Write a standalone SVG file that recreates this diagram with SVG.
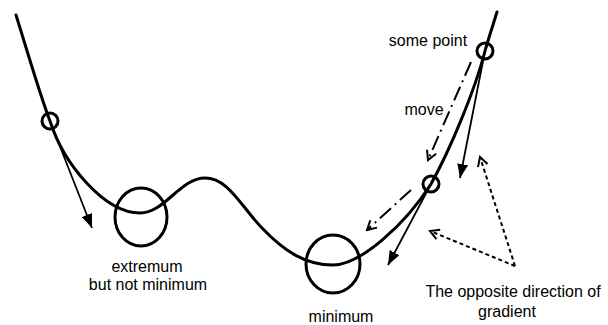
<svg xmlns="http://www.w3.org/2000/svg" width="608" height="325" viewBox="0 0 608 325">
<style>
.curve{fill:none;stroke:#000;stroke-width:3;stroke-linecap:round}
.ring{fill:none;stroke:#000;stroke-width:3}
.grad{fill:none;stroke:#000;stroke-width:1.8}
.move{fill:none;stroke:#000;stroke-width:2;stroke-dasharray:15 5 2 5}
.opp{fill:none;stroke:#000;stroke-width:2;stroke-dasharray:4 3}
.t{font-family:"Liberation Sans",Arial,sans-serif;font-size:16px;fill:#000;text-anchor:middle}
</style>
<defs>
<marker id="solid" viewBox="0 0 14 11" refX="14" refY="5.5" markerWidth="14" markerHeight="11" markerUnits="userSpaceOnUse" orient="auto">
<path d="M0,0 L14,5.5 L0,11 z" fill="#000"/>
</marker>
<marker id="open" viewBox="0 0 12 12" refX="10" refY="6" markerWidth="12" markerHeight="12" markerUnits="userSpaceOnUse" orient="auto">
<path d="M1,1 L10,6 L1,11" fill="none" stroke="#000" stroke-width="2"/>
</marker>
</defs>
<g id="curve">
<path class="curve" d="M16,15 C30,60 40,95 50,121 C64,165 105,213 140,213 C165,213 180,178 205,178 C228,178 240,205 262,228 C284,251 305,265 333,265 C360,265 405,225 431,184 C450,150 475,90 485,51 C488,40 493,25 497,12"/>
</g>
<g id="point-left">
<circle class="ring" cx="50" cy="121" r="8"/>
</g>
<g id="point-mid">
<circle class="ring" cx="431" cy="184" r="8"/>
</g>
<g id="point-top">
<circle class="ring" cx="485" cy="51" r="8"/>
</g>
<g id="extremum">
<ellipse class="ring" cx="141" cy="217" rx="26" ry="29"/>
<text class="t" x="147" y="272">extremum</text>
<text class="t" x="148" y="290">but not minimum</text>
</g>
<g id="minimum">
<ellipse class="ring" cx="333" cy="264" rx="27" ry="29"/>
<text class="t" x="341" y="322">minimum</text>
</g>
<g id="labels">
<text class="t" x="428" y="46">some point</text>
<text class="t" x="424" y="115">move</text>
<text class="t" x="513" y="297">The opposite direction of</text>
<text class="t" x="507" y="317">gradient</text>
</g>
<g id="connectors">
<line class="grad" x1="50" y1="121" x2="92" y2="228" marker-end="url(#solid)"/>
<line class="grad" x1="485" y1="51" x2="460" y2="178" marker-end="url(#solid)"/>
<line class="grad" x1="431" y1="184" x2="388" y2="265" marker-end="url(#solid)"/>
<line class="move" x1="471" y1="62" x2="428" y2="160" marker-end="url(#open)"/>
<line class="move" x1="411" y1="190" x2="367" y2="230" marker-end="url(#open)"/>
<line class="opp" x1="515" y1="266" x2="480" y2="157" marker-end="url(#open)"/>
<line class="opp" x1="515" y1="266" x2="430" y2="231" marker-end="url(#open)"/>
</g>
</svg>
